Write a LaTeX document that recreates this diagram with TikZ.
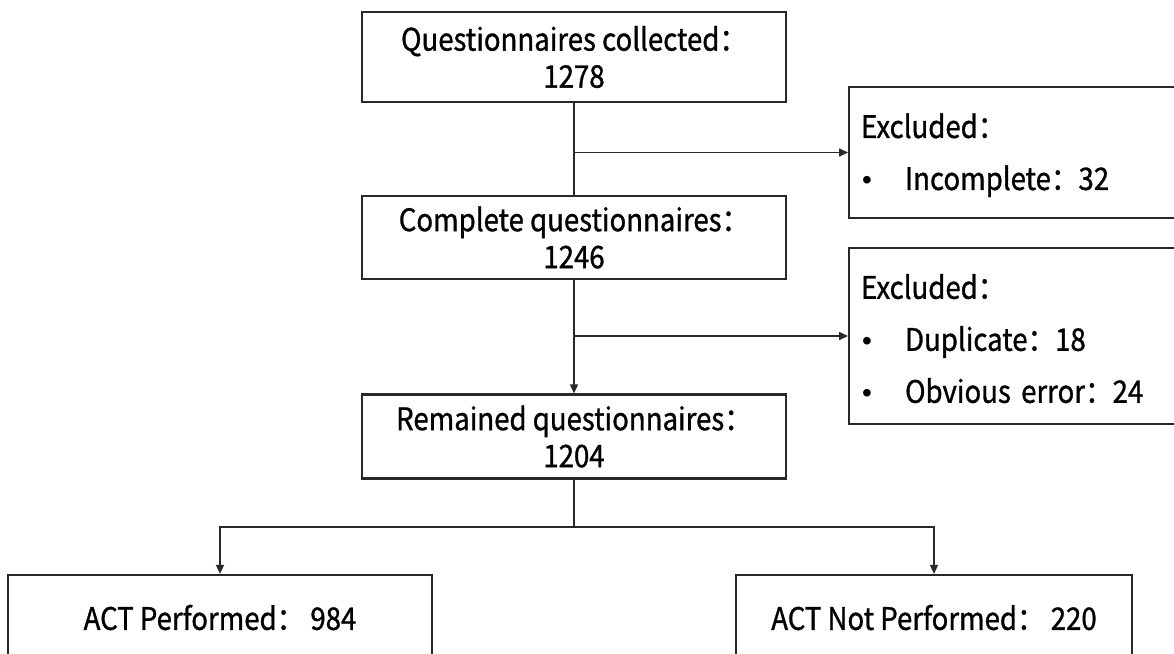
\documentclass[tikz,border=0pt]{standalone}
\usepackage{fontspec}
\usepackage{tikz}
\usetikzlibrary{arrows.meta,positioning}
\newfontfamily\flowfont{Noto Sans CJK SC}[FakeStretch=0.89,FakeBold=1]
\newfontfamily\dotfont{Liberation Sans}
\definecolor{flowLine}{RGB}{40,40,40}
\newcommand{\exitem}[1]{\makebox[22pt][l]{\hspace{0.5pt}{\dotfont\fontsize{14}{14}\selectfont •}}#1}

\begin{document}
\begin{tikzpicture}[x=0.5pt,y=-0.5pt,
  >={Triangle[length=4.5pt,width=4pt]},
  flowbox/.style={draw=flowLine, line width=1.1pt, align=center, inner sep=0pt,
    minimum width=212pt, font=\flowfont\fontsize{15.5}{18.5}\selectfont},
  exclbox/.style={draw=flowLine, line width=1.1pt, anchor=west, align=left,
    text width=170pt, inner xsep=6pt, inner ysep=0pt,
    font=\flowfont\fontsize{15.5}{26}\selectfont},
  link/.style={draw=flowLine, line width=0.8pt}]
\useasboundingbox (0,0) rectangle (1174,654);

\node[flowbox, minimum height=45pt] (collected) at (574,57) {Questionnaires collected：\\1278};
\node[flowbox, minimum height=41.5pt] (complete) at (574,237.5) {Complete questionnaires：\\1246};
\node[flowbox, minimum height=42pt] (remained) at (574,436.5) {Remained questionnaires：\\1204};

\node[exclbox, minimum height=65.5pt] (excl1) at (848,152.5) {\rule{0pt}{15pt}Excluded：\\\exitem{Incomplete：32}};
\node[exclbox, minimum height=88pt] (excl2) at (848,336)
  {\rule{0pt}{15pt}Excluded：\\\exitem{Duplicate：18}\\\exitem{Obvious error：24}};

\node[flowbox, minimum width=212.25pt, minimum height=42.5pt] (perf) at (220,617.5) {ACT Performed： 984};
\node[flowbox, minimum width=198pt, minimum height=42.5pt] (notperf) at (934,617.5) {ACT Not Performed： 220};

\coordinate (split) at (574,527);

\draw[link] (collected) -- (complete);
\draw[link,->] (collected.south |- excl1.west) -- (excl1.west);
\draw[link,->] (complete) -- (remained);
\draw[link,->] (complete.south |- excl2.west) -- (excl2.west);
\draw[link] (remained) -- (split);
\draw[link,->] (split) -| (perf);
\draw[link,->] (split) -| (notperf);
\end{tikzpicture}
\end{document}
